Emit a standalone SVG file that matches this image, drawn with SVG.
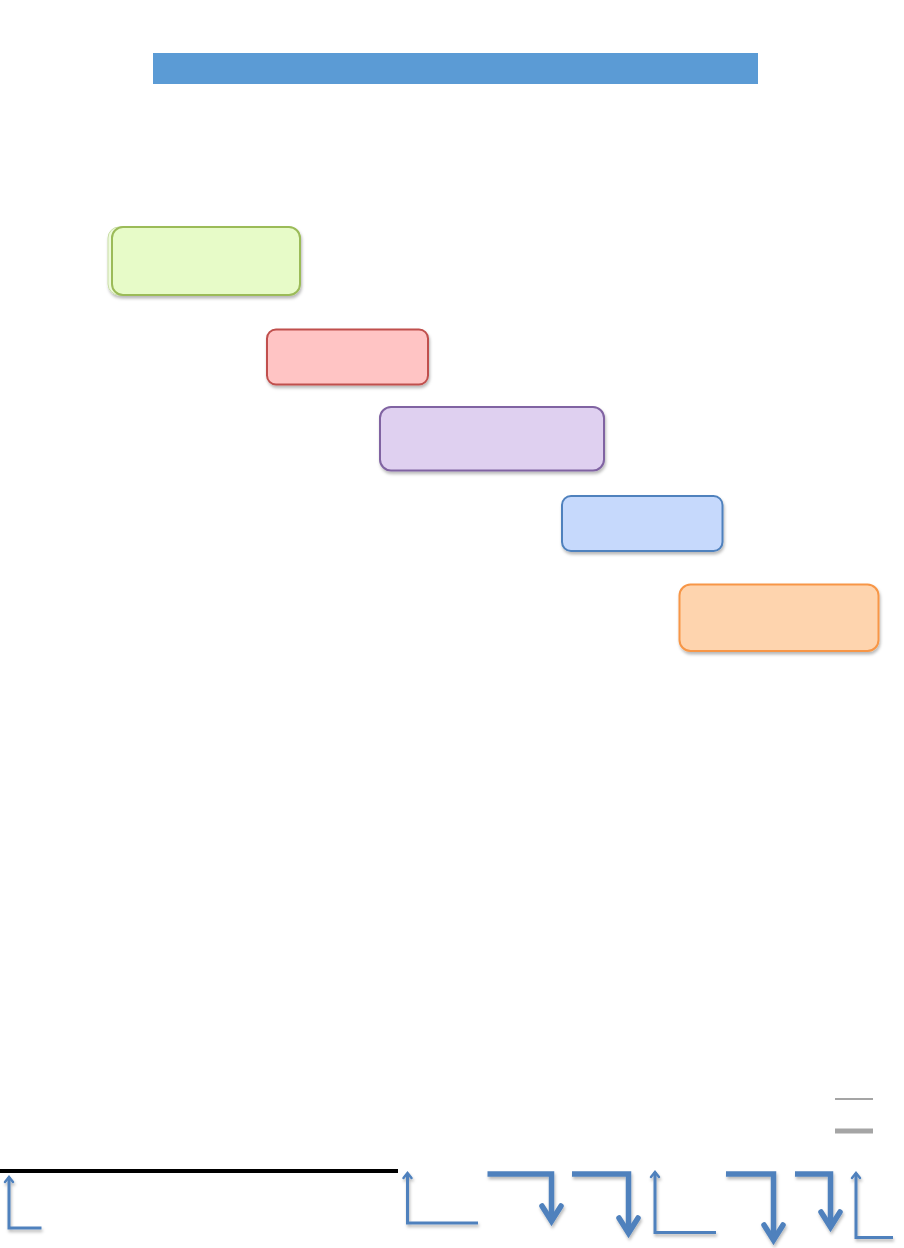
<svg xmlns="http://www.w3.org/2000/svg" width="904" height="1248" viewBox="0 0 904 1248">
<defs>
<filter id="sh" x="-10%" y="-10%" width="130%" height="140%">
<feDropShadow dx="1" dy="2.5" stdDeviation="1.5" flood-color="#000" flood-opacity="0.28"/>
</filter>
<style>
.box{stroke-width:2}
.thin{fill:none;stroke:#4F81BD;stroke-width:3}
.thick{fill:none;stroke:#4F81BD;stroke-width:5.5;stroke-linejoin:miter}
.head{fill:none;stroke:#4F81BD;stroke-width:5.5;stroke-linecap:round;stroke-linejoin:miter}
.thinhead{fill:none;stroke:#4F81BD;stroke-width:2.5;stroke-linecap:round}
</style>
</defs>
<rect width="904" height="1248" fill="#fff"/>
<g id="title"><rect x="153" y="53" width="605" height="31" fill="#5B9BD5"/></g>
<g id="node-green" filter="url(#sh)">
<rect x="108" y="227" width="190" height="68" rx="11" fill="#EEFBDC" stroke="#C9DDA6" stroke-width="1"/>
<rect class="box" x="112" y="227" width="188" height="68" rx="11" fill="#E7FBC8" stroke="#9BBB59"/>
</g>
<g id="node-red" filter="url(#sh)"><rect class="box" x="267" y="329.5" width="161" height="55" rx="9" fill="#FFC4C4" stroke="#C0504D"/></g>
<g id="node-purple" filter="url(#sh)"><rect class="box" x="380" y="407" width="224" height="63.5" rx="11" fill="#DFD0F0" stroke="#8064A2"/></g>
<g id="node-blue" filter="url(#sh)"><rect class="box" x="562" y="496" width="160.5" height="55" rx="9" fill="#C6D9FC" stroke="#4F81BD"/></g>
<g id="node-orange" filter="url(#sh)"><rect class="box" x="679.5" y="584.5" width="199" height="66.5" rx="11" fill="#FED4AE" stroke="#F79646"/></g>
<g id="rules">
<line x1="835" y1="1099" x2="873" y2="1099" stroke="#A5A5A5" stroke-width="2"/>
<line x1="835" y1="1131" x2="873" y2="1131" stroke="#A5A5A5" stroke-width="5"/>
<line x1="0" y1="1171" x2="398" y2="1171" stroke="#000" stroke-width="4"/>
</g>
<g id="connectors" filter="url(#sh)">
<polyline class="thin" points="41.5,1228 9,1228 9,1177"/>
<polyline class="thinhead" points="5,1182 9,1177 13,1182"/>
<polyline class="thin" points="478,1223 407.5,1223 407.5,1173"/>
<polyline class="thinhead" points="403.5,1178 407.5,1173 411.5,1178"/>
<polyline class="thick" points="487.5,1174 551.5,1174 551.5,1220"/>
<polyline class="head" points="542,1206 551.5,1221 561,1206"/>
<polyline class="thick" points="572,1174 628.5,1174 628.5,1232"/>
<polyline class="head" points="619,1218 628.5,1233 638,1218"/>
<polyline class="thin" points="716,1232.5 655,1232.5 655,1172"/>
<polyline class="thinhead" points="651,1177 655,1172 659,1177"/>
<polyline class="thick" points="726,1174 773.5,1174 773.5,1239"/>
<polyline class="head" points="764,1225 773.5,1240 783,1225"/>
<polyline class="thick" points="795,1174 830.5,1174 830.5,1226"/>
<polyline class="head" points="821,1212 830.5,1227 840,1212"/>
<polyline class="thin" points="893,1237.5 856,1237.5 856,1173"/>
<polyline class="thinhead" points="852,1178 856,1173 860,1178"/>
</g>
</svg>
